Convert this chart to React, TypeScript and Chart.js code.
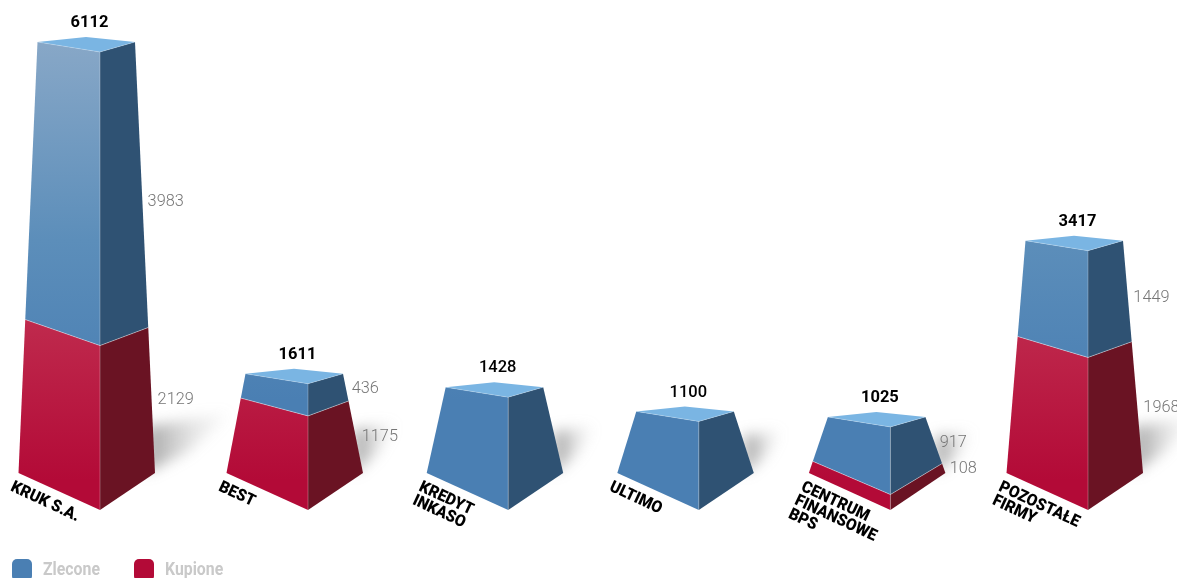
import React, { useEffect, useRef } from "react";
import { Chart, registerables } from "chart.js";

Chart.register(...registerables);

const categories: (string | string[])[] = [
  "KRUK S.A.",
  "BEST",
  ["KREDYT", "INKASO"],
  "ULTIMO",
  ["CENTRUM", "FINANSOWE", "BPS"],
  ["POZOSTAŁE", "FIRMY"],
];
const zlecone = [3983, 436, 1428, 1100, 917, 1449];
const kupione = [2129, 1175, 0, 0, 108, 1968];

const BLUE = "#4a7fb3";
const RED = "#b30a37";

// Prism proportions, in pixels relative to the front edge of a column.
const prism = {
  plinth: 7.5,
  baseLeft: 81.5,
  baseRight: 55,
  baseDepth: 37,
  topLeft: 62.5,
  topRight: 35,
  topDepth: 10,
  backX: 14,
  backY: 15,
};
// Columns are not evenly spaced along the floor.
const columnShift = [0, 10.4, 13, 6, 0, 0];

type Pt = [number, number];

function narrowText(ctx: CanvasRenderingContext2D, s: string, x: number, y: number, squeeze: number) {
  ctx.save();
  ctx.translate(x, y);
  ctx.scale(squeeze, 1);
  ctx.fillText(s, 0, 0);
  ctx.restore();
}

function fillPoly(ctx: CanvasRenderingContext2D, pts: Pt[], fill: string | CanvasGradient) {
  ctx.beginPath();
  pts.forEach(([x, y], i) => (i ? ctx.lineTo(x, y) : ctx.moveTo(x, y)));
  ctx.closePath();
  ctx.fillStyle = fill;
  ctx.fill();
}

function strokeLine(ctx: CanvasRenderingContext2D, pts: Pt[], color: string) {
  ctx.beginPath();
  pts.forEach(([x, y], i) => (i ? ctx.lineTo(x, y) : ctx.moveTo(x, y)));
  ctx.strokeStyle = color;
  ctx.lineWidth = 1;
  ctx.stroke();
}

const prismPlugin = {
  id: "prismColumns",
  beforeDatasetsDraw(chart: Chart) {
    const ctx = chart.ctx;
    const redMeta = chart.getDatasetMeta(0);
    const blueMeta = chart.getDatasetMeta(1);
    const maxTotal = Math.max(...zlecone.map((v, i) => v + kupione[i]));

    const blueFront = ctx.createLinearGradient(0, 45, 0, 400);
    blueFront.addColorStop(0, "#87a7c7");
    blueFront.addColorStop(0.55, "#5c8eba");
    blueFront.addColorStop(1, BLUE);
    const redFront = ctx.createLinearGradient(0, 320, 0, 480);
    redFront.addColorStop(0, "#bf2a4d");
    redFront.addColorStop(1, RED);

    categories.forEach((label, i) => {
      const red = redMeta.data[i] as any;
      const blue = blueMeta.data[i] as any;
      const cx = blue.x + columnShift[i];
      const y0 = red.base + prism.plinth;
      const yTop = blue.y;
      const total = zlecone[i] + kupione[i];
      const tall = total / maxTotal;

      const bl: Pt = [cx - prism.baseLeft, y0 - prism.baseDepth];
      const br: Pt = [cx + prism.baseRight, y0 - prism.baseDepth];
      const tl: Pt = [cx - prism.topLeft, yTop - prism.topDepth];
      const tr: Pt = [cx + prism.topRight, yTop - prism.topDepth];
      const back: Pt = [cx - prism.backX, yTop - prism.backY];
      const front0: Pt = [cx, y0];
      const frontT: Pt = [cx, yTop];

      // Where a horizontal seam meets the two outer edges.
      const onEdge = (a: Pt, b: Pt, y: number): Pt => [a[0] + ((y - a[1]) / (b[1] - a[1])) * (b[0] - a[0]), y];
      const seamY = red.y;
      const f = (y0 - seamY) / (y0 - yTop);
      const bow = tall * 4 * f * (1 - f);
      const off = prism.baseDepth - (prism.baseDepth - prism.topDepth) * f;
      const seamL = onEdge(bl, tl, seamY - (off - 3 * bow + 1.5));
      const seamR = onEdge(br, tr, seamY - (off - 10 * bow));
      const seamF: Pt = [cx, seamY];
      const hasRed = kupione[i] > 0;

      // Soft shadow on the floor behind the right side.
      const reach = 18 + total * 0.01;
      const rise = Math.min(46, 24 + total * 0.012);
      ctx.save();
      ctx.filter = "blur(7px)";
      const sh = ctx.createLinearGradient(br[0] - 5, 0, br[0] + reach, 0);
      sh.addColorStop(0, "rgba(90,90,90,0.5)");
      sh.addColorStop(0.5, "rgba(120,120,120,0.2)");
      sh.addColorStop(1, "rgba(140,140,140,0)");
      fillPoly(
        ctx,
        [
          [br[0] - 10, br[1] - rise],
          [br[0] + reach, br[1] - rise - reach * 0.2],
          [br[0] + reach * 0.4, br[1] - rise * 0.45],
          [br[0] - 10, br[1]],
        ],
        sh
      );
      ctx.restore();

      // Faces, one slab per series.
      if (hasRed) {
        fillPoly(ctx, [bl, seamL, seamF, front0], redFront);
        fillPoly(ctx, [front0, seamF, seamR, br], "#6a1323");
      }
      const bL = hasRed ? seamL : bl;
      const bR = hasRed ? seamR : br;
      const bF = hasRed ? seamF : front0;
      fillPoly(ctx, [bL, tl, frontT, bF], blueFront);
      fillPoly(ctx, [bF, frontT, tr, bR], "#2f5273");
      fillPoly(ctx, [tl, back, tr, frontT], "#7ab5e3");

      strokeLine(ctx, [front0, frontT], "rgba(255,255,255,0.28)");
      strokeLine(ctx, [tl, frontT, tr], "rgba(255,255,255,0.22)");
      if (hasRed) strokeLine(ctx, [seamL, seamF, seamR], "rgba(255,255,255,0.4)");

      // Series values beside the right side.
      ctx.fillStyle = "#767676";
      ctx.font = "300 17px Roboto";
      ctx.textAlign = "left";
      ctx.textBaseline = "middle";
      const sideLabel = (v: number, a: Pt, b: Pt, drop: number) => {
        const my = (a[1] + b[1]) / 2;
        const mx = (a[0] + b[0]) / 2;
        narrowText(ctx, String(v), mx + 6, my + drop, 0.96);
      };
      if (hasRed) {
        sideLabel(zlecone[i], tr, seamR, (seamR[1] - tr[1]) * 0.06);
        sideLabel(kupione[i], seamR, br, 0);
      }

      // Column total above the top face.
      ctx.fillStyle = "#000";
      ctx.font = `${hasRed ? 700 : 500} 17px Roboto`;
      ctx.textAlign = "center";
      narrowText(ctx, String(total), cx - 10.5, yTop - prism.backY - 14, 0.97);

      // Category name laid along the floor.
      const lines = Array.isArray(label) ? label : [label];
      ctx.save();
      ctx.translate(cx - 85, 479);
      ctx.rotate((25 * Math.PI) / 180);
      ctx.font = "900 16.5px Roboto";
      ctx.textAlign = "left";
      ctx.textBaseline = "top";
      lines.forEach((line, k) => narrowText(ctx, line, 0, k * 15, 0.94));
      ctx.restore();
    });

    // Legend swatches along the bottom edge.
    const legendItems: [number, number][] = [
      [1, 12],
      [0, 134],
    ];
    legendItems.forEach(([ds, x]) => {
      const set = chart.data.datasets[ds] as any;
      ctx.beginPath();
      ctx.roundRect(x, 559, 20, 22, 5);
      ctx.fillStyle = set.backgroundColor;
      ctx.fill();
      ctx.fillStyle = "#c9c9c9";
      ctx.font = "700 18px Roboto";
      ctx.textAlign = "left";
      ctx.textBaseline = "middle";
      narrowText(ctx, set.label, x + 31, 570, 0.88);
    });
    return false;
  },
};

export default function App() {
  const ref = useRef<HTMLCanvasElement>(null);
  useEffect(() => {
    const chart = new Chart(ref.current!, {
      type: "bar",
      data: {
        labels: categories as any,
        datasets: [
          { label: "Kupione", data: kupione, backgroundColor: RED },
          { label: "Zlecone", data: zlecone, backgroundColor: BLUE },
        ],
      },
      options: {
        animation: false,
        responsive: false,
        layout: { padding: { left: 100, right: 89, top: 1.3, bottom: 75.5 } },
        scales: {
          x: { stacked: true, display: false, offset: false },
          y: { stacked: true, display: false, min: 0, max: 6800 },
        },
        plugins: { legend: { display: false }, tooltip: { enabled: false } },
      },
      plugins: [prismPlugin as any],
    });
    return () => chart.destroy();
  }, []);
  return (
    <div style={{ position: "absolute", left: 0, top: 0, width: 1177, height: 578 }}>
      <canvas ref={ref} width={1177} height={578} style={{ display: "block" }} />
    </div>
  );
}
